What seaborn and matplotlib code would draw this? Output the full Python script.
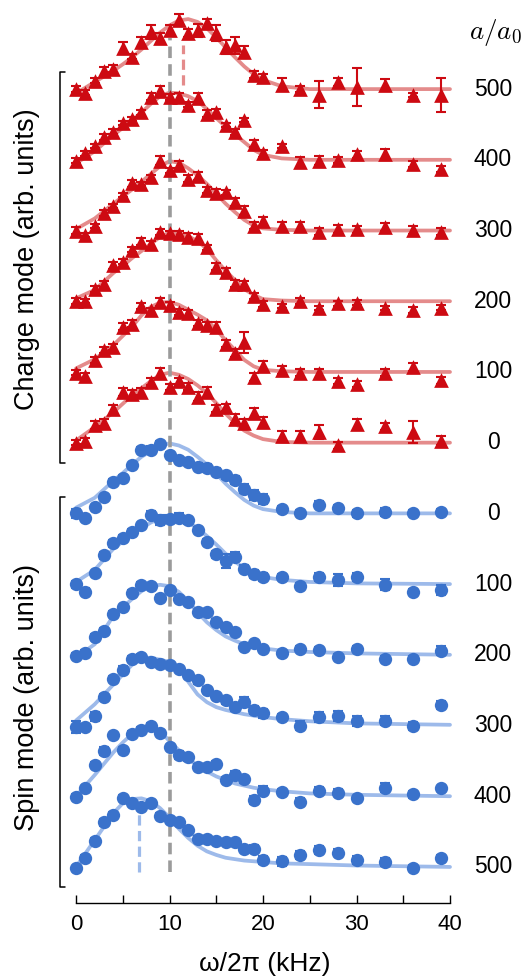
import matplotlib
matplotlib.use("Agg")
import matplotlib.pyplot as plt
import numpy as np
import pandas as pd
import seaborn as sns

# ---------------- data ----------------
x_khz = [0, 1, 2, 3, 4, 5, 6, 7, 8, 9, 10, 11, 12, 13, 14, 15, 16, 17, 18, 19, 20,
         22, 24, 26, 28, 30, 33, 36, 39]
fit_x = [0, 2, 4, 5, 6, 7, 8, 9, 10, 11, 12, 13, 14, 15, 16, 17, 18, 19, 20, 22, 25, 30, 40]
a_labels = [500, 400, 300, 200, 100, 0]

charge_500 = [0.00, -0.05, 0.12, 0.25, 0.29, 0.58, 0.46, 0.67, 0.81, 0.72, 0.83, 0.98, 0.79, 0.83, 0.93,
              0.79, 0.60, 0.62, 0.53, 0.20, 0.17, 0.06, 0.00, -0.08, 0.10, 0.03, 0.06, -0.08, -0.08]
charge_400 = [-0.01, 0.09, 0.19, 0.32, 0.40, 0.52, 0.58, 0.67, 0.89, 0.98, 0.89, 0.89, 0.78, 0.88, 0.65,
              0.67, 0.49, 0.39, 0.56, 0.23, 0.09, 0.20, -0.03, -0.01, 0.00, 0.08, 0.08, -0.06, -0.13]
charge_300 = [0.00, -0.06, 0.06, 0.25, 0.35, 0.50, 0.67, 0.66, 0.75, 0.99, 0.85, 0.93, 0.73, 0.77, 0.57,
              0.53, 0.54, 0.40, 0.28, 0.07, 0.13, 0.06, 0.06, -0.02, 0.02, 0.02, 0.05, 0.01, -0.02]
charge_200 = [0.00, 0.00, 0.17, 0.24, 0.51, 0.56, 0.73, 0.84, 0.81, 0.98, 0.96, 0.95, 0.91, 0.89, 0.76,
              0.49, 0.42, 0.25, 0.24, 0.07, -0.04, -0.07, 0.00, -0.10, -0.03, -0.02, -0.10, -0.12, -0.09]
charge_100 = [-0.01, -0.06, 0.17, 0.31, 0.35, 0.64, 0.68, 0.93, 0.87, 0.99, 0.94, 0.85, 0.83, 0.69, 0.66,
              0.64, 0.40, 0.27, 0.42, -0.07, 0.08, 0.03, -0.01, -0.02, -0.13, -0.17, -0.01, 0.07, -0.12]
charge_0 = [0.00, 0.02, 0.25, 0.28, 0.47, 0.72, 0.69, 0.72, 0.86, 0.99, 0.79, 0.87, 0.79, 0.65, 0.72,
            0.48, 0.50, 0.34, 0.28, 0.42, 0.29, 0.10, 0.10, 0.15, -0.04, 0.27, 0.23, 0.15, 0.03]

spin_0 = [0.00, -0.06, 0.09, 0.23, 0.45, 0.50, 0.68, 0.90, 0.90, 0.98, 0.83, 0.75, 0.73, 0.66, 0.64,
          0.59, 0.54, 0.47, 0.35, 0.26, 0.20, 0.06, 0.01, 0.12, 0.08, 0.00, 0.02, 0.01, 0.02]
spin_100 = [0.00, -0.11, 0.15, 0.41, 0.58, 0.65, 0.73, 0.83, 0.98, 0.91, 0.92, 0.94, 0.90, 0.77, 0.60,
            0.42, 0.33, 0.39, 0.22, 0.14, 0.10, 0.10, -0.03, 0.10, 0.06, 0.10, -0.01, -0.11, -0.08]
spin_200 = [-0.01, 0.03, 0.25, 0.34, 0.58, 0.67, 0.87, 0.99, 0.98, 0.81, 0.91, 0.79, 0.74, 0.60, 0.60,
            0.46, 0.40, 0.32, 0.11, 0.16, 0.08, 0.02, 0.08, 0.07, -0.03, 0.08, -0.06, -0.06, 0.06]
spin_300 = [-0.02, -0.02, 0.13, 0.40, 0.66, 0.79, 0.94, 0.97, 0.90, 0.87, 0.85, 0.80, 0.71, 0.64, 0.50,
            0.42, 0.36, 0.26, 0.33, 0.22, 0.17, 0.12, 0.00, 0.12, 0.13, 0.07, 0.07, -0.01, 0.29]
spin_400 = [-0.01, 0.11, 0.44, 0.64, 0.86, 0.65, 0.88, 0.94, 0.99, 0.90, 0.69, 0.58, 0.55, 0.42, 0.42,
            0.45, 0.23, 0.30, 0.24, -0.05, 0.08, 0.06, -0.08, 0.08, 0.05, -0.03, 0.12, 0.03, 0.11]
spin_500 = [-0.02, 0.13, 0.37, 0.63, 0.73, 0.98, 0.91, 0.85, 0.90, 0.72, 0.66, 0.63, 0.52, 0.40, 0.40,
            0.37, 0.35, 0.35, 0.25, 0.26, 0.10, 0.08, 0.17, 0.24, 0.20, 0.10, 0.07, -0.01, 0.13]

charge_500_err = [0.04, 0.04, 0.03, 0.06, 0.05, 0.08, 0.03, 0.07, 0.10, 0.08, 0.07, 0.08, 0.06, 0.09, 0.06,
                  0.11, 0.10, 0.12, 0.08, 0.05, 0.04, 0.09, 0.04, 0.19, 0.06, 0.27, 0.08, 0.03, 0.24]
charge_400_err = [0.03, 0.03, 0.03, 0.04, 0.03, 0.03, 0.03, 0.04, 0.05, 0.06, 0.04, 0.05, 0.04, 0.06, 0.05,
                  0.05, 0.03, 0.04, 0.03, 0.05, 0.05, 0.03, 0.07, 0.06, 0.04, 0.05, 0.07, 0.04, 0.04]
charge_300_err = [0.05, 0.03, 0.03, 0.04, 0.03, 0.03, 0.05, 0.03, 0.04, 0.06, 0.04, 0.05, 0.05, 0.06, 0.04,
                  0.06, 0.04, 0.06, 0.06, 0.05, 0.06, 0.06, 0.06, 0.05, 0.06, 0.05, 0.06, 0.06, 0.05]
charge_200_err = [0.04, 0.03, 0.04, 0.04, 0.05, 0.04, 0.04, 0.05, 0.04, 0.04, 0.04, 0.04, 0.05, 0.06, 0.04,
                  0.05, 0.05, 0.05, 0.05, 0.04, 0.04, 0.03, 0.04, 0.03, 0.04, 0.04, 0.03, 0.04, 0.04]
charge_100_err = [0.04, 0.04, 0.04, 0.04, 0.04, 0.05, 0.05, 0.04, 0.04, 0.06, 0.05, 0.04, 0.04, 0.04, 0.05,
                  0.06, 0.05, 0.06, 0.15, 0.06, 0.08, 0.06, 0.05, 0.06, 0.04, 0.04, 0.05, 0.06, 0.05]
charge_0_err = [0.04, 0.04, 0.06, 0.05, 0.06, 0.06, 0.05, 0.05, 0.05, 0.07, 0.04, 0.05, 0.05, 0.06, 0.07,
                0.05, 0.05, 0.06, 0.05, 0.07, 0.07, 0.06, 0.07, 0.10, 0.05, 0.07, 0.05, 0.15, 0.06]
spin_0_err = [0.06, 0.03, 0.03, 0.03, 0.03, 0.04, 0.03, 0.04, 0.05, 0.04, 0.04, 0.04, 0.04, 0.05, 0.06,
              0.05, 0.05, 0.06, 0.06, 0.07, 0.07, 0.04, 0.04, 0.05, 0.04, 0.05, 0.06, 0.04, 0.04]
spin_100_err = [0.05, 0.05, 0.04, 0.05, 0.05, 0.05, 0.05, 0.04, 0.05, 0.07, 0.06, 0.06, 0.05, 0.04, 0.04,
                0.05, 0.10, 0.06, 0.05, 0.06, 0.06, 0.04, 0.04, 0.06, 0.08, 0.06, 0.08, 0.04, 0.07]
spin_200_err = [0.04, 0.04, 0.04, 0.04, 0.04, 0.04, 0.04, 0.04, 0.04, 0.04, 0.04, 0.04, 0.04, 0.04, 0.04,
                0.04, 0.04, 0.04, 0.04, 0.04, 0.04, 0.04, 0.04, 0.04, 0.04, 0.04, 0.04, 0.04, 0.06]
spin_300_err = [0.09, 0.04, 0.06, 0.04, 0.04, 0.05, 0.04, 0.04, 0.05, 0.04, 0.04, 0.04, 0.04, 0.05, 0.04,
                0.04, 0.05, 0.05, 0.07, 0.06, 0.06, 0.04, 0.07, 0.07, 0.07, 0.07, 0.06, 0.06, 0.06]
spin_400_err = [0.04, 0.04, 0.04, 0.05, 0.04, 0.04, 0.04, 0.04, 0.04, 0.04, 0.04, 0.06, 0.05, 0.04, 0.04,
                0.05, 0.04, 0.06, 0.05, 0.06, 0.06, 0.04, 0.05, 0.05, 0.05, 0.04, 0.06, 0.05, 0.04]
spin_500_err = [0.04, 0.04, 0.04, 0.05, 0.04, 0.04, 0.04, 0.04, 0.04, 0.04, 0.04, 0.04, 0.04, 0.04, 0.04,
                0.04, 0.04, 0.04, 0.04, 0.05, 0.06, 0.06, 0.06, 0.05, 0.05, 0.06, 0.05, 0.04, 0.04]

fit_charge_500 = [-0.06, 0.10, 0.26, 0.35, 0.45, 0.56, 0.68, 0.80, 0.90, 0.97, 0.99, 0.95, 0.86, 0.73, 0.59,
                  0.45, 0.32, 0.21, 0.13, 0.04, 0.00, 0.00, 0.00]
fit_charge_400 = [-0.05, 0.12, 0.35, 0.45, 0.56, 0.67, 0.79, 0.90, 0.95, 0.94, 0.90, 0.83, 0.72, 0.59, 0.47,
                  0.36, 0.25, 0.14, 0.07, 0.02, 0.00, 0.00, 0.00]
fit_charge_300 = [0.02, 0.17, 0.38, 0.48, 0.58, 0.69, 0.80, 0.91, 0.98, 0.96, 0.88, 0.78, 0.66, 0.52, 0.38,
                  0.26, 0.15, 0.07, 0.03, 0.01, 0.00, 0.00, 0.00]
fit_charge_200 = [0.04, 0.16, 0.40, 0.50, 0.61, 0.71, 0.81, 0.91, 0.97, 0.96, 0.92, 0.85, 0.74, 0.58, 0.43,
                  0.30, 0.17, 0.09, 0.03, 0.01, 0.00, 0.00, 0.00]
fit_charge_100 = [0.05, 0.18, 0.38, 0.51, 0.64, 0.80, 0.92, 0.98, 0.99, 0.95, 0.88, 0.81, 0.73, 0.60, 0.45,
                  0.31, 0.17, 0.08, 0.03, 0.01, 0.00, 0.00, 0.00]
fit_charge_0 = [0.03, 0.22, 0.43, 0.55, 0.67, 0.77, 0.87, 0.96, 0.99, 0.96, 0.90, 0.81, 0.70, 0.56, 0.41,
                0.28, 0.17, 0.10, 0.05, 0.01, 0.00, 0.00, 0.00]
fit_spin_0 = [0.08, 0.22, 0.46, 0.57, 0.69, 0.80, 0.88, 0.96, 0.99, 0.96, 0.90, 0.80, 0.69, 0.56, 0.42,
              0.30, 0.19, 0.11, 0.06, 0.02, 0.00, 0.00, 0.00]
fit_spin_100 = [0.03, 0.20, 0.50, 0.60, 0.70, 0.79, 0.87, 0.93, 0.94, 0.92, 0.87, 0.79, 0.68, 0.56, 0.43,
                0.32, 0.22, 0.15, 0.10, 0.06, 0.03, 0.01, 0.00]
fit_spin_200 = [-0.04, 0.15, 0.55, 0.67, 0.79, 0.90, 0.97, 0.99, 0.97, 0.89, 0.76, 0.60, 0.46, 0.35, 0.26,
                0.20, 0.15, 0.11, 0.09, 0.06, 0.04, 0.02, 0.00]
fit_spin_300 = [0.07, 0.30, 0.58, 0.72, 0.86, 0.95, 0.96, 0.93, 0.90, 0.82, 0.62, 0.44, 0.33, 0.26, 0.22,
                0.19, 0.16, 0.14, 0.12, 0.09, 0.06, 0.03, 0.01]
fit_spin_400 = [0.00, 0.30, 0.62, 0.76, 0.88, 0.95, 0.96, 0.92, 0.78, 0.65, 0.53, 0.43, 0.35, 0.28, 0.23,
                0.18, 0.15, 0.12, 0.10, 0.07, 0.04, 0.02, 0.00]
fit_spin_500 = [0.00, 0.38, 0.76, 0.90, 0.96, 0.97, 0.93, 0.83, 0.70, 0.54, 0.41, 0.30, 0.22, 0.17, 0.13,
                0.11, 0.09, 0.08, 0.07, 0.05, 0.04, 0.02, 0.00]

charge_peak_500 = 11.4   # dashed marker of the shifted charge peak
spin_peak_500 = 6.7      # dashed marker of the shifted spin peak
reference_peak = 10.0    # gray dashed line

charge_data = {500: (charge_500, charge_500_err, fit_charge_500),
               400: (charge_400, charge_400_err, fit_charge_400),
               300: (charge_300, charge_300_err, fit_charge_300),
               200: (charge_200, charge_200_err, fit_charge_200),
               100: (charge_100, charge_100_err, fit_charge_100),
               0: (charge_0, charge_0_err, fit_charge_0)}
spin_data = {0: (spin_0, spin_0_err, fit_spin_0),
             100: (spin_100, spin_100_err, fit_spin_100),
             200: (spin_200, spin_200_err, fit_spin_200),
             300: (spin_300, spin_300_err, fit_spin_300),
             400: (spin_400, spin_400_err, fit_spin_400),
             500: (spin_500, spin_500_err, fit_spin_500)}

# ---------------- style ----------------
sns.set_theme(style="white")
plt.rcParams['font.family'] = ['Liberation Sans', 'DejaVu Sans']
plt.rcParams['mathtext.fontset'] = 'cm'

RED = '#CD0A12'
RED_FIT = '#E48B8B'
BLUE = '#3A72CB'
BLUE_FIT = '#9DBAEA'
GRAY = '#9B9B9B'

W, H = 526, 980
fig = plt.figure(figsize=(W / 100, H / 100), dpi=100)
ax = fig.add_axes([76 / W, 77 / H, 374 / W, 903 / H])

def offset_of(mode, a):
    return 6 + a / 100 if mode == 'charge' else 5 - a / 100

rows, fit_rows = [], []
for mode, d in (('charge', charge_data), ('spin', spin_data)):
    for a, (vals, errs, fit) in d.items():
        off = offset_of(mode, a)
        for xv, yv, ev in zip(x_khz, vals, errs):
            rows.append(dict(mode=mode, a=a, x=xv, y=yv + off, err=ev))
        for xv, yv in zip(fit_x, fit):
            fit_rows.append(dict(mode=mode, a=a, x=xv, y=yv + off))
df = pd.DataFrame(rows)
fit_df = pd.DataFrame(fit_rows)

# fit curves
for (mode, a), g in fit_df.groupby(['mode', 'a']):
    sns.lineplot(data=g, x='x', y='y', ax=ax, color=RED_FIT if mode == 'charge' else BLUE_FIT,
                 lw=2.7, estimator=None, sort=False, zorder=1)

# dashed guide lines
ax.plot([reference_peak, reference_peak], [-0.07, 11.72], color=GRAY, lw=2.6,
        dashes=(3.2, 1.7), zorder=2)
ax.plot([charge_peak_500, charge_peak_500], [11.06, 11.62], color=RED_FIT, lw=2.3,
        dashes=(3.2, 1.7), zorder=2)
ax.plot([spin_peak_500, spin_peak_500], [-0.07, 0.76], color=BLUE_FIT, lw=2.3,
        dashes=(3.2, 1.7), zorder=2)

# data points with error bars
for (mode, a), g in df.groupby(['mode', 'a']):
    col = RED if mode == 'charge' else BLUE
    ax.errorbar(g['x'], g['y'], yerr=g['err'], fmt='none', ecolor=col, elinewidth=1.5,
                capsize=3.9, capthick=1.5, zorder=3)
    sns.scatterplot(data=g, x='x', y='y', ax=ax, color=col,
                    marker='^' if mode == 'charge' else 'o',
                    s=112 if mode == 'charge' else 92, linewidth=0, zorder=4, legend=False)

# axes
ax.set_xlim(0, 40)
ax.set_ylim(-0.51, 12.26)
ax.set_yticks([])
ax.set_xticks(range(0, 41, 5))
ax.set_xticklabels(['0', '', '10', '', '20', '', '30', '', '40'])
ax.tick_params(axis='x', direction='in', length=6, width=1.0, labelsize=16, pad=8,
               colors='black', bottom=True)
ax.set_xlabel('')
ax.set_ylabel('')
sns.despine(ax=ax, left=True, top=True, right=True)
ax.spines['bottom'].set_color('black')
ax.spines['bottom'].set_linewidth(1.0)
ax.patch.set_alpha(0)

for art in ax.collections + ax.lines:
    art.set_clip_on(False)

# right-hand a/a0 labels
for a in a_labels:
    ax.text(44.6, offset_of('charge', a), str(a), ha='center', va='center', fontsize=16.5,
            color='black', clip_on=False)
    ax.text(44.6, offset_of('spin', a), str(a), ha='center', va='center', fontsize=16.5,
            color='black', clip_on=False)
ax.text(44.9, 11.8, r'$a/a_0$', ha='center', va='center', fontsize=19.5, color='black',
        clip_on=False)

# brackets and mode labels
for top, bot, yc, label in ((11.24, 5.71, 8.6, 'Charge mode (arb. units)'),
                            (5.23, -0.28, 2.4, 'Spin mode (arb. units)')):
    ax.plot([-1.15, -1.7, -1.7, -1.15], [top, top, bot, bot], color='black', lw=1.1,
            clip_on=False)
    ax.text(-5.2, yc, label, rotation=90, ha='center', va='center',
            fontsize=19.5, color='black', clip_on=False)

fig.text(265 / W, 1 - 964 / H, 'ω/2π (kHz)', ha='center', va='center', fontsize=19,
         color='black')

fig.savefig('out.png', dpi=100, facecolor='white')
